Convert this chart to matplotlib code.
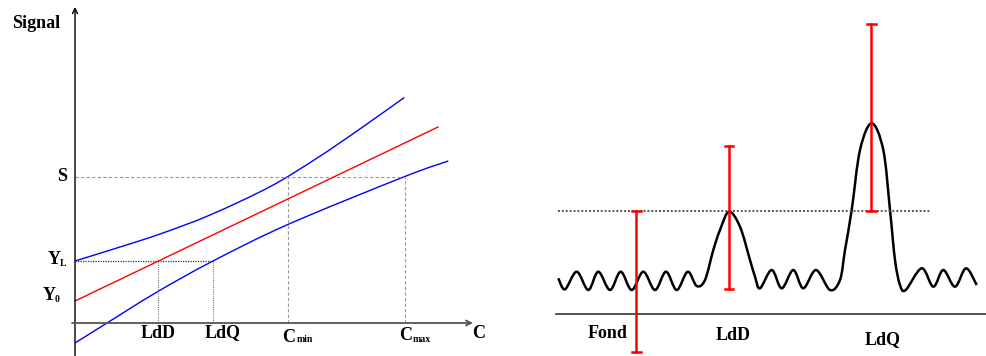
import numpy as np
import matplotlib
matplotlib.use('Agg')
import matplotlib.pyplot as plt
from matplotlib.path import Path
from matplotlib.patches import PathPatch

# ---- left panel: calibration curve (C, Signal) in arbitrary units ----
red_c = [0.0, 36.3]
red_s = [2.2, 19.6]

upper_c = [0.0, 4.5, 8.5, 13.5, 19.5, 24.17, 28.5, 32.93]
upper_s = [6.2, 7.6, 8.9, 10.8, 13.63, 16.47, 19.41, 22.55]

lower_c = [0.0, 3.2, 8.2, 13.8, 21.33, 32.93, 37.33]
lower_s = [-2.0, 0.0, 3.1, 6.2, 9.87, 14.63, 16.2]

y_l = 6.2
s_level = 14.6
ldd_c = 8.3
ldq_c = 13.8
cmin_c = 21.3
cmax_c = 33.0

# ---- right panel: signal trace ----
sig_x = [0.13, 0.80, 1.97, 3.13, 4.13, 5.30, 6.37, 7.47, 8.63, 9.80,
         10.90, 11.97, 13.07, 13.97, 14.80, 15.63, 16.30, 17.20, 18.30,
         19.30, 19.80, 20.30, 21.47, 22.47, 23.63, 24.63, 25.90, 27.30,
         28.30, 28.80, 29.47, 30.30, 31.47, 32.63, 33.30, 33.80, 34.30,
         34.87, 36.47, 37.63, 38.63, 39.80, 40.90, 41.97]
sig_y = [3.57, 2.47, 4.23, 2.40, 4.23, 2.40, 4.23, 2.40, 4.23, 2.40,
         4.23, 2.40, 4.23, 2.80, 3.40, 6.40, 8.40, 10.23, 8.73,
         5.40, 3.73, 2.57, 4.40, 2.57, 4.40, 2.57, 4.40, 2.40,
         3.40, 6.40, 10.40, 16.40, 19.07, 16.40, 10.40, 5.40, 2.90,
         2.40, 4.57, 2.73, 4.40, 2.73, 4.57, 2.90]

threshold = 10.3
bar_x = [7.9, 17.2, 31.45]
bar_lo = [-3.8, 2.5, 10.3]
bar_hi = [10.3, 16.8, 29.0]
peak_labels = ['Fond', 'LdD', 'LdQ']
label_x = [5.07, 17.57, 32.57]
label_y = [-2.0, -2.1, -2.6]


def smooth_path(xs, ys):
    pts = np.column_stack([xs, ys])
    verts = [pts[0]]
    codes = [Path.MOVETO]
    for i in range(len(pts) - 1):
        p0 = pts[i - 1] if i > 0 else pts[i]
        p1 = pts[i]
        p2 = pts[i + 1]
        p3 = pts[i + 2] if i + 2 < len(pts) else pts[i + 1]
        verts += [p1 + (p2 - p0) / 6, p2 - (p3 - p1) / 6, p2]
        codes += [Path.CURVE4] * 3
    return Path(verts, codes)


font = dict(family='Liberation Serif', weight='bold')

fig = plt.figure(figsize=(9.87, 3.56), dpi=100)

# left panel
ax = fig.add_axes([0, 0, 500 / 987, 1])
ax.set_xlim(-7.5, 42.5)
ax.set_ylim(-3.3, 32.3)
ax.axis('off')

ax.annotate('', xy=(0, 31.6), xytext=(0, -3.3),
            arrowprops=dict(arrowstyle='->', lw=1.0, color='black',
                            shrinkA=0, shrinkB=0, mutation_scale=9))
ax.annotate('', xy=(39.8, 0), xytext=(-0.3, 0),
            arrowprops=dict(arrowstyle='->', lw=1.3, color='#555555',
                            shrinkA=0, shrinkB=0, mutation_scale=9))

grey = '#9a9a9a'
ax.plot([0, cmax_c], [s_level, s_level], ls=(0, (3, 2)), color=grey, lw=0.8)
ax.plot([cmin_c, cmin_c], [0, s_level], ls=(0, (3, 2)), color=grey, lw=0.8)
ax.plot([cmax_c, cmax_c], [0, s_level], ls=(0, (3, 2)), color=grey, lw=0.8)
ax.plot([0, ldq_c], [y_l, y_l], ls=(0, (1, 1)), color='#333333', lw=0.9)
ax.plot([ldd_c, ldd_c], [0, y_l], ls=(0, (1, 1)), color='#777777', lw=0.8)
ax.plot([ldq_c, ldq_c], [0, y_l], ls=(0, (1, 1)), color='#777777', lw=0.8)

ax.plot(red_c, red_s, color='red', lw=1.0)
ax.add_patch(PathPatch(smooth_path(upper_c, upper_s), fill=False,
                       edgecolor='blue', lw=1.0))
ax.add_patch(PathPatch(smooth_path(lower_c, lower_s), fill=False,
                       edgecolor='blue', lw=1.0))

ax.text(-3.9, 29.9, 'Signal', ha='center', va='center', fontsize=13, **font)
ax.text(-0.8, s_level, 'S', ha='right', va='center', fontsize=13, **font)
ax.text(-1.4, 6.4, 'Y', ha='right', va='center', fontsize=13, **font)
ax.text(-1.5, 5.9, 'L', ha='left', va='center', fontsize=7, **font)
ax.text(-1.9, 2.8, 'Y', ha='right', va='center', fontsize=13, **font)
ax.text(-2.0, 2.3, '0', ha='left', va='center', fontsize=7, **font)
ax.text(ldd_c, -1.0, 'LdD', ha='center', va='center', fontsize=13, **font)
ax.text(ldq_c + 1.0, -1.0, 'LdQ', ha='center', va='center', fontsize=13, **font)
ax.text(cmin_c + 0.1, -1.4, 'C', ha='center', va='center', fontsize=13, **font)
ax.text(cmin_c + 0.9, -1.7, 'min', ha='left', va='center', fontsize=7, **font)
ax.text(cmax_c + 0.1, -1.3, 'C', ha='center', va='center', fontsize=13, **font)
ax.text(cmax_c + 0.8, -1.7, 'max', ha='left', va='center', fontsize=7, **font)
ax.text(40.4, -1.0, 'C', ha='center', va='center', fontsize=13, **font)

# right panel
ax2 = fig.add_axes([500 / 987, 0, 487 / 987, 1])
ax2.set_xlim(-5.7, 43.0)
ax2.set_ylim(-4.2, 31.4)
ax2.axis('off')

ax2.plot([-0.1, 43.0], [0, 0], color='#333333', lw=1.2, clip_on=False)
ax2.plot([0.1, 37.4], [threshold, threshold], ls=(0, (1, 1)),
         color='#555555', lw=1.4)
ax2.add_patch(PathPatch(smooth_path(sig_x, sig_y), fill=False,
                        edgecolor='black', lw=1.8, joinstyle='round'))

for x, lo, hi in zip(bar_x, bar_lo, bar_hi):
    ax2.plot([x, x], [lo, hi], color='red', lw=1.8)
    ax2.plot([x - 0.45, x + 0.45], [lo, lo], color='red', lw=1.8)
    ax2.plot([x - 0.45, x + 0.45], [hi, hi], color='red', lw=1.8)

for lab, x, y in zip(peak_labels, label_x, label_y):
    ax2.text(x, y, lab, ha='center', va='center', fontsize=13, **font)

fig.savefig('out.png', dpi=100)
